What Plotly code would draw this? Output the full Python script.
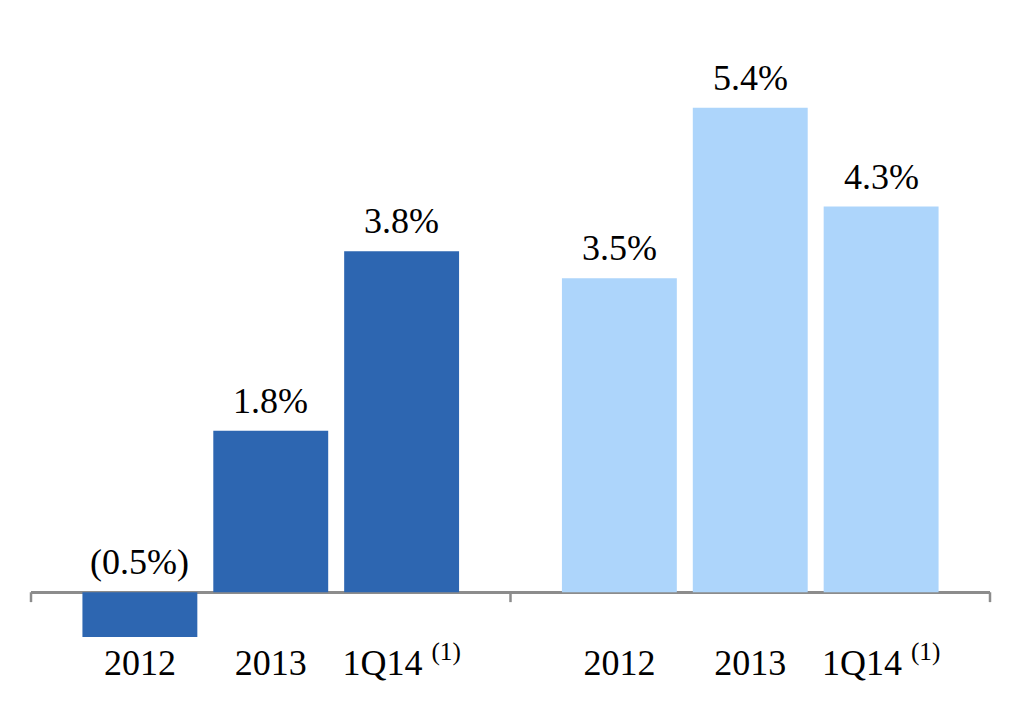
import plotly.graph_objects as go
from plotly.subplots import make_subplots

periods = ['2012', '2013', '1Q14 <sup>(1)</sup>']
left_vals = [-0.5, 1.8, 3.8]
right_vals = [3.5, 5.4, 4.3]
left_color = '#2D66B1'
right_color = '#ADD5FB'
FONT = 'Liberation Serif, Times New Roman, serif'


def pct(v):
    return f'({abs(v):.1f}%)' if v < 0 else f'{v:.1f}%'


fig = make_subplots(rows=1, cols=2, shared_yaxes=True, horizontal_spacing=0)

for col, (vals, color) in enumerate([(left_vals, left_color), (right_vals, right_color)], start=1):
    fig.add_trace(go.Bar(x=periods, y=vals, marker_color=color, marker_line_width=0,
                         showlegend=False, hoverinfo='skip'), row=1, col=col)
    # value labels sit above the bar (or above the zero line for negatives)
    for i, v in enumerate(vals):
        fig.add_annotation(x=i, y=max(v, 0), text=pct(v), showarrow=False,
                           yanchor='bottom', yshift=8,
                           font=dict(family=FONT, size=36, color='black'),
                           row=1, col=col)

# ticks at the group boundaries -------------------------------------------
for xr, xv in [('x domain', 0), ('x domain', 1), ('x2 domain', 1)]:
    fig.add_shape(type='line', xref=xr, yref='y', x0=xv, x1=xv, y0=0, y1=-0.11,
                  line=dict(color='#8C8C8C', width=2.5))

fig.update_xaxes(type='category', range=[-0.832, 2.832], showgrid=False,
                 showline=False, ticks='',
                 tickfont=dict(family=FONT, size=36, color='black'),
                 ticklabelstandoff=0)
fig.update_yaxes(range=[-0.51, 6.0], showgrid=False, showticklabels=False,
                 zeroline=True, zerolinecolor='#8C8C8C', zerolinewidth=2.5)
fig.update_layout(width=1020, height=720, bargap=0.122,
                  margin=dict(l=23, r=38, t=46, b=90),
                  plot_bgcolor='white', paper_bgcolor='white')
fig.write_html('out.html')
